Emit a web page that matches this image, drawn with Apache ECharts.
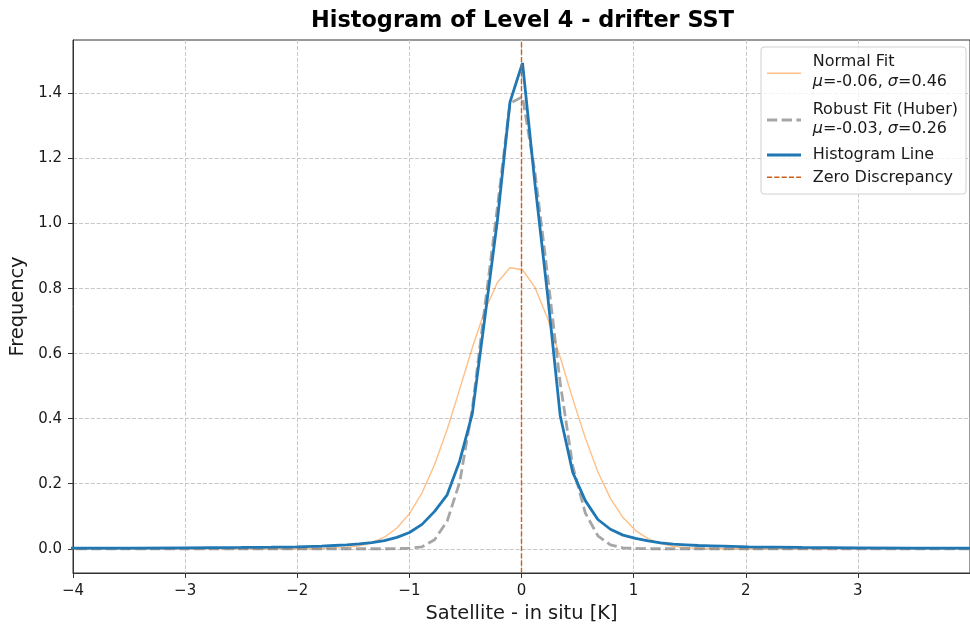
<!DOCTYPE html>
<html>
<head>
<meta charset="utf-8">
<title>Histogram of Level 4 - drifter SST</title>
<script src="https://cdn.jsdelivr.net/npm/echarts@6/dist/echarts.min.js"></script>
<style>
  html, body { margin: 0; padding: 0; background: #ffffff; }
  #chart { width: 970px; height: 628px; }
</style>
</head>
<body>
<div id="chart"></div>
<script>
// Bin centres of the discrepancy histogram (satellite minus in situ, K)
const binCenters = [
  -4.1, -3.5, -3.0, -2.5, -2.231, -2.007, -1.783, -1.671, -1.559, -1.447,
  -1.335, -1.223, -1.111, -0.999, -0.887, -0.775, -0.663, -0.551, -0.439, -0.327,
  -0.215, -0.103, 0.009, 0.121, 0.233, 0.345, 0.457, 0.569, 0.681, 0.793,
  0.905, 1.017, 1.129, 1.241, 1.353, 1.465, 1.577, 1.689, 1.801, 2.025,
  2.249, 2.5, 3.0, 3.5, 4.1
];

// Normalised histogram frequency at each bin centre
const histogramLine = [
  0.002, 0.002, 0.003, 0.004, 0.005, 0.006, 0.008, 0.010, 0.012, 0.015,
  0.019, 0.025, 0.035, 0.050, 0.075, 0.115, 0.166, 0.270, 0.415, 0.710,
  1.010, 1.373, 1.494, 1.120, 0.780, 0.410, 0.235, 0.148, 0.090, 0.060,
  0.042, 0.032, 0.024, 0.018, 0.014, 0.012, 0.010, 0.009, 0.008, 0.006,
  0.005, 0.004, 0.003, 0.002, 0.002
];

// Gaussian fit (mean / std of the sample)
const normalParams = [-0.06, 0.46];
const normalFit = [
  0, 0, 0, 0, 0, 0.0001, 0.0008, 0.0019, 0.0043, 0.0092,
  0.0186, 0.0355, 0.0638, 0.108, 0.172, 0.259, 0.367, 0.491, 0.618, 0.733,
  0.819, 0.864, 0.858, 0.803, 0.708, 0.589, 0.461, 0.341, 0.237, 0.155,
  0.096, 0.056, 0.031, 0.016, 0.0077, 0.0036, 0.0015, 0.0006, 0.0002, 0,
  0, 0, 0, 0, 0
];

// Robust (Huber) fit
const robustParams = [-0.03, 0.26];
const robustFit = [
  0, 0, 0, 0, 0, 0, 0, 0, 0, 0,
  0, 0, 0.0005, 0.002, 0.006, 0.028, 0.085, 0.205, 0.430, 0.745,
  1.050, 1.370, 1.390, 1.155, 0.840, 0.510, 0.255, 0.110, 0.040, 0.012,
  0.003, 0.001, 0, 0, 0, 0, 0, 0, 0, 0,
  0, 0, 0, 0, 0
];

// Reference line at zero discrepancy
const zeroDiscrepancy = [0];

// Axis ranges and ticks
const xLimits = [-4, 4];
const yLimits = [-0.0745, 1.5645];
const xTicks = [-4, -3, -2, -1, 0, 1, 2, 3];
const yTicks = [0, 0.2, 0.4, 0.6, 0.8, 1.0, 1.2, 1.4];

const titleText = 'Histogram of Level 4 - drifter SST';
const xLabel = 'Satellite - in situ [K]';
const yLabel = 'Frequency';
const legendNames = ['Normal Fit', 'Robust Fit (Huber)', 'Histogram Line', 'Zero Discrepancy'];

const FONT = 'DejaVu Sans';
const INK = '#1a1a1a';
const C_NORMAL = 'rgba(255,127,14,0.5)';
const C_ROBUST = 'rgba(128,128,128,0.7)';
const C_HIST = '#1f77b4';
const C_ZERO = '#cc5f1c';
const LEGEND_FS = 16;

const pts = ys => binCenters.map((x, i) => [x, ys[i]]);
const minus = v => (v < 0 ? '\u2212' + String(Math.abs(v)) : String(v));
const fitText = p => '{i|\u03bc}=' + p[0].toFixed(2) + ', {i|\u03c3}=' + p[1].toFixed(2);

const chart = echarts.init(document.getElementById('chart'), null, { renderer: 'canvas' });

const legendText = (x, y, text, rich) => ({
  type: 'text', x: x, y: y, z: 102,
  style: {
    text: text, fontFamily: FONT, fontSize: LEGEND_FS, fill: INK,
    verticalAlign: 'middle', align: 'left',
    rich: rich ? { i: { fontFamily: FONT, fontSize: LEGEND_FS, fontStyle: 'italic', fill: INK } } : undefined
  }
});
const legendLine = (y, color, width, dash) => ({
  type: 'line', z: 102,
  shape: { x1: 767, y1: y, x2: 801, y2: y },
  style: { stroke: color, lineWidth: width, lineDash: dash || null }
});

const option = {
  animation: false,
  backgroundColor: '#ffffff',
  grid: {
    left: 72.5, top: 40, width: 901, height: 535,
    show: true, borderColor: '#333333', borderWidth: 1, backgroundColor: 'transparent'
  },
  xAxis: {
    type: 'value', min: xLimits[0], max: xLimits[1], interval: 1,
    name: xLabel, nameLocation: 'middle', nameGap: 31,
    nameTextStyle: { fontFamily: FONT, fontSize: 19.4, color: INK },
    axisLine: { onZero: false, lineStyle: { color: '#333333', width: 1 } },
    axisTick: { show: true, length: 5, customValues: xTicks, lineStyle: { color: '#333333', width: 1 } },
    axisLabel: { customValues: xTicks, formatter: minus, fontFamily: FONT, fontSize: 15, color: INK, margin: 11 },
    splitLine: { show: true, lineStyle: { color: '#c8c8c8', width: 1, type: [4.1, 1.8] } }
  },
  yAxis: {
    type: 'value', min: yLimits[0], max: yLimits[1],
    name: yLabel, nameLocation: 'middle', nameGap: 46, nameRotate: 90,
    nameTextStyle: { fontFamily: FONT, fontSize: 19.4, color: INK },
    axisLine: { show: true, onZero: false, lineStyle: { color: '#333333', width: 1 } },
    axisTick: { show: true, length: 5, customValues: yTicks, lineStyle: { color: '#333333', width: 1 } },
    axisLabel: { customValues: yTicks, formatter: v => v.toFixed(1), fontFamily: FONT, fontSize: 15, color: INK, margin: 11 },
    splitLine: { show: true, lineStyle: { color: '#c8c8c8', width: 1, type: [4.1, 1.8] } }
  },
  series: [
    {
      name: legendNames[0], type: 'line', data: pts(normalFit), symbol: 'none',
      lineStyle: { color: C_NORMAL, width: 1.4 }, z: 2
    },
    {
      name: legendNames[1], type: 'line', data: pts(robustFit), symbol: 'none',
      lineStyle: { color: C_ROBUST, width: 2.8, type: [10.3, 4.4] }, z: 3
    },
    {
      name: legendNames[2], type: 'line', data: pts(histogramLine), symbol: 'none',
      lineStyle: { color: C_HIST, width: 2.8 }, z: 4
    },
    {
      name: legendNames[3], type: 'line', data: [], symbol: 'none', z: 5,
      markLine: {
        silent: true, symbol: ['none', 'none'], label: { show: false },
        lineStyle: { color: C_ZERO, width: 1.4, type: [5.1, 2.2] },
        data: zeroDiscrepancy.map(v => ({ xAxis: v }))
      }
    }
  ],
  graphic: [
    {
      type: 'text', x: 522.5, y: 21, z: 10,
      style: { text: titleText, fontFamily: FONT, fontSize: 22.4, fontWeight: 'bold', fill: '#000000', align: 'center', verticalAlign: 'middle' }
    },
    {
      type: 'rect', z: 100,
      shape: { x: 761, y: 47, width: 205, height: 147, r: 3 },
      style: { fill: 'rgba(255,255,255,0.8)', stroke: '#d0d0d0', lineWidth: 1 }
    },
    legendLine(73.3, C_NORMAL, 1.4),
    legendText(812.7, 62, legendNames[0]),
    legendText(812.7, 82, fitText(normalParams), true),
    legendLine(120, C_ROBUST, 2.8, [10.3, 4.4]),
    legendText(812.7, 110, legendNames[1]),
    legendText(812.7, 129, fitText(robustParams), true),
    legendLine(155, C_HIST, 2.8),
    legendText(812.7, 155, legendNames[2]),
    legendLine(177.3, C_ZERO, 1.4, [5.1, 2.2]),
    legendText(812.7, 178, legendNames[3])
  ]
};

chart.setOption(option);
</script>
</body>
</html>
